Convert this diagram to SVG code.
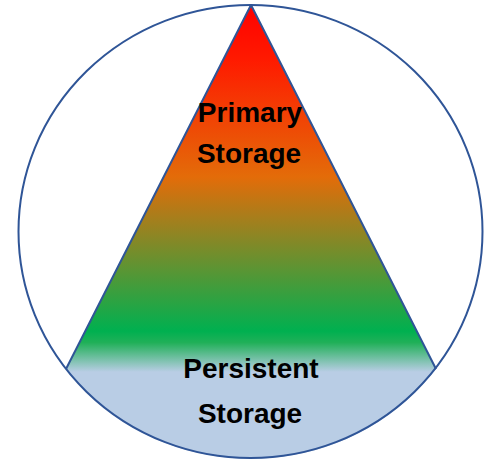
<svg xmlns="http://www.w3.org/2000/svg" width="487" height="462" viewBox="0 0 487 462">
  <style>
    .edge { fill: none; stroke: #2F5597; stroke-width: 2; stroke-linejoin: round; }
    .label { font-family: "Liberation Sans", Arial, sans-serif; font-weight: bold; font-size: 28px; fill: #000; text-anchor: middle; }
  </style>
  <defs>
    <linearGradient id="pyr" gradientUnits="userSpaceOnUse" x1="0" y1="5" x2="0" y2="458">
      <stop offset="0" stop-color="#FF0000"/>
      <stop offset="0.12" stop-color="#FF1A00"/>
      <stop offset="0.38" stop-color="#E36C09"/>
      <stop offset="0.72" stop-color="#00B050"/>
      <stop offset="0.745" stop-color="#20B058"/>
      <stop offset="0.81" stop-color="#B9CDE5"/>
      <stop offset="1" stop-color="#B9CDE5"/>
    </linearGradient>
  </defs>
  <rect width="487" height="462" fill="#FFFFFF"/>
  <g id="circle">
    <ellipse cx="250.5" cy="231.5" rx="232" ry="226.5" fill="#FFFFFF" stroke="none"/>
  </g>
  <g id="pyramid">
    <path d="M 66 369 L 251 5 L 436 369 A 232 226.5 0 0 1 66 369 Z" fill="url(#pyr)" stroke="none"/>
    <path class="edge" d="M 66 369 L 251 5 L 436 369"/>
  </g>
  <g id="circle-outline">
    <ellipse class="edge" cx="250.5" cy="231.5" rx="232" ry="226.5"/>
  </g>
  <g id="primary-storage">
    <text class="label" x="250" y="122">Primary</text>
    <text class="label" x="249" y="163">Storage</text>
  </g>
  <g id="persistent-storage">
    <text class="label" x="251" y="378">Persistent</text>
    <text class="label" x="250" y="423">Storage</text>
  </g>
</svg>
